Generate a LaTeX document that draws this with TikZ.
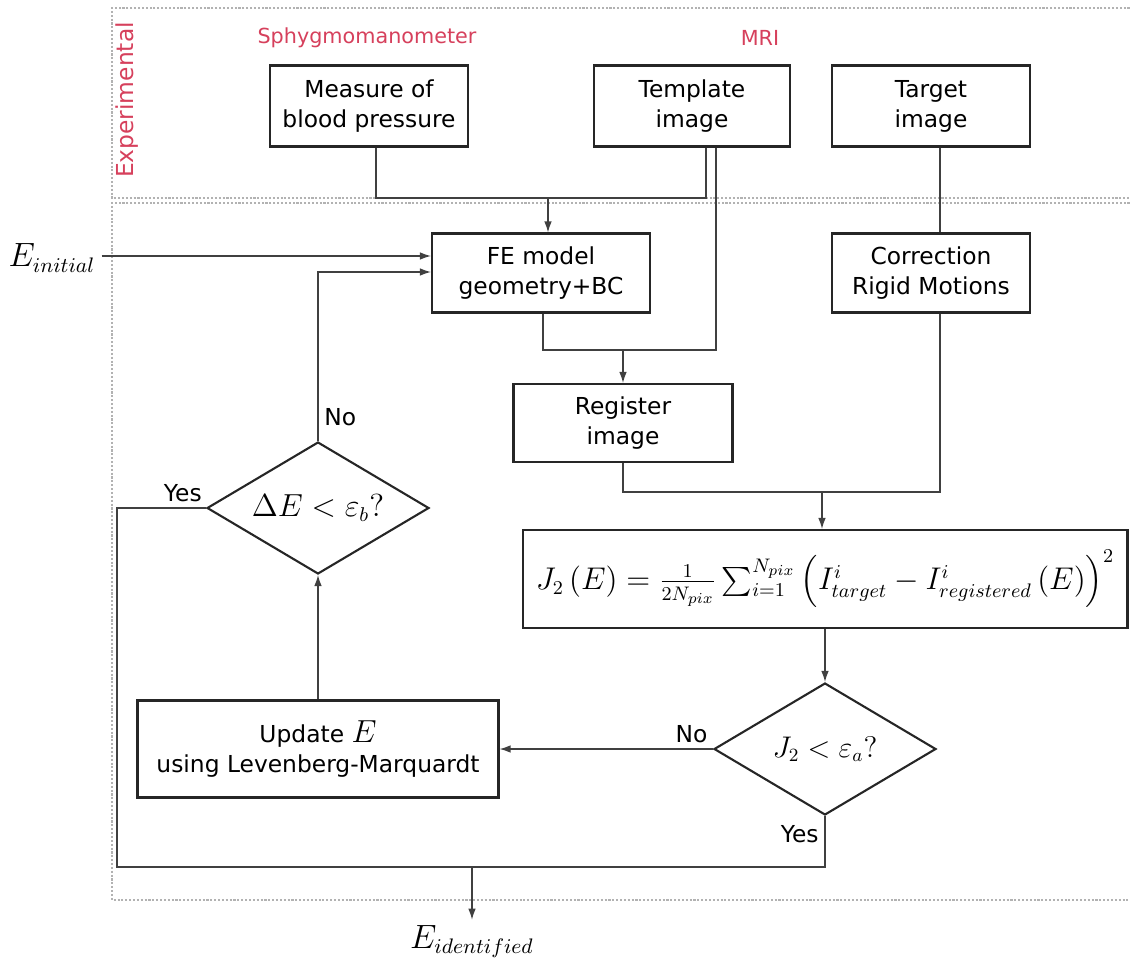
\documentclass[tikz,border=0pt]{standalone}
\usepackage{amsmath}
\usepackage{amssymb}
\usepackage[no-math]{fontspec}
\setmainfont{DejaVu Sans}
\usepackage{tikz}
\usepackage{xcolor}
\usetikzlibrary{shapes, positioning, arrows.meta}

\definecolor{srcred}{RGB}{214,64,92}
\definecolor{framegray}{RGB}{178,178,178}
\newcommand{\mth}[2][1.26]{\scalebox{#1}{$#2$}}

\begin{document}
\begin{tikzpicture}[x=0.02cm, y=-0.02cm, font=\fontsize{13.3}{17}\selectfont,
        block/.style={rectangle, draw=black!85, line width=1.2pt, align=center, inner sep=2pt},
        decision/.style={diamond, draw=black!85, line width=1.2pt, inner sep=0pt, aspect=1.68,
            minimum width=4.44cm, minimum height=2.64cm},
        conn/.style={draw=black!75, line width=0.7pt},
        arr/.style={conn, -{Latex[length=2.2mm, width=1.5mm]}},
        region/.style={draw=framegray, densely dotted, line width=1.2pt},
        source/.style={text=srcred}]
        \useasboundingbox (0, 0) rectangle (1130, 961);

        % regions
        \draw[region] (1145, 8) -- (112, 8) -- (112, 198) -- (1145, 198);
        \draw[region] (1145, 203) -- (112, 203) -- (112, 900) -- (1145, 900);
        \node[source, rotate=90] (expe) at (127, 100) {Experimental};
        \node[source, font=\fontsize{11.8}{14}\selectfont] (sphy) at (367, 38) {Sphygmomanometer};
        \node[source, font=\fontsize{11.8}{14}\selectfont] (mri) at (760, 38) {MRI};

        % experimental inputs
        \node[block, minimum width=3.96cm, minimum height=1.62cm] (press) at (369, 106) {Measure of\\blood pressure};
        \node[block, minimum width=3.92cm, minimum height=1.62cm] (tmpl) at (692, 106) {Template\\image};
        \node[block, minimum width=3.96cm, minimum height=1.62cm] (targ) at (931, 106) {Target\\image};

        % model and registration
        \node[block, minimum width=4.36cm, minimum height=1.58cm] (fem) at (541, 273) {FE model\\geometry+BC};
        \node[block, minimum width=3.96cm, minimum height=1.58cm] (rigid) at (931, 273) {Correction\\Rigid Motions};
        \node[block, minimum width=4.38cm, minimum height=1.56cm] (reg) at (623, 423) {Register\\image};
        \node[block, minimum width=12.1cm, minimum height=1.96cm] (cost) at (825, 579)
            {\mth[1.24]{J_2\left(E\right)=\frac{1}{2N_{pix}}\sum_{i=1}^{N_{pix}}\left(I^i_{target}-I^i_{registered}\left(E\right)\right)^2}};

        % decisions and update
        \node[decision] (tolb) at (318, 508) {\mth{\Delta E<\varepsilon_b?}};
        \node[decision] (tola) at (825, 749) {\mth[1.18]{J_2<\varepsilon_a?}};
        \node[block, minimum width=7.22cm, minimum height=1.94cm] (upd) at (318, 749) {Update \mth{E}\\using Levenberg-Marquardt};

        % inputs and outputs
        \node (ein) at (52, 258) {\mth[1.33]{E_{initial}}};
        \node (eid) at (472, 942) {\mth[1.33]{E_{identified}}};
        \coordinate (jfem) at (548, 198);
        \coordinate (jreg) at (623, 350);
        \coordinate (jcost) at (822, 492);
        \coordinate (jout) at (472, 867);

        % connectors
        \draw[conn] (press.south -| 376, 0) |- (jfem);
        \draw[conn] (tmpl.south -| 706, 0) |- (jfem);
        \draw[arr] (jfem) -- (fem.north -| jfem);
        \draw[conn] (fem.south -| 543, 0) |- (jreg);
        \draw[conn] (tmpl.south -| 716, 0) |- (jreg);
        \draw[arr] (jreg) -- (reg.north -| jreg);
        \draw[conn] (targ.south -| 940, 0) -- (rigid.north -| 940, 0);
        \draw[conn] (reg.south) |- (jcost);
        \draw[conn] (rigid.south -| 940, 0) |- (jcost);
        \draw[arr] (jcost) -- (cost.north -| jcost);
        \draw[arr] (cost.south -| tola.north) -- (tola.north);
        \draw[arr] (tola.west) -- node[pos=0.1, above] (no1) {No} (upd.east |- tola.west);
        \draw[arr] (upd.north) -- (tolb.south);
        \draw[arr] (tolb.north) -- node[pos=0.05, above right] (no2) {No} (318, 272) -- (fem.west |- 0, 272);
        \draw[arr] (ein.east |- 0, 256) -- (fem.west |- 0, 256);
        \draw[conn] (tolb.west) -- node[pos=0.26, above] (yes1) {Yes} (117, 508) |- (jout);
        \draw[conn] (tola.south) -- node[pos=0.35, left] (yes2) {Yes} (825, 867) -- (jout);
        \draw[arr] (jout) -- (eid.north);
    \end{tikzpicture}
\end{document}
